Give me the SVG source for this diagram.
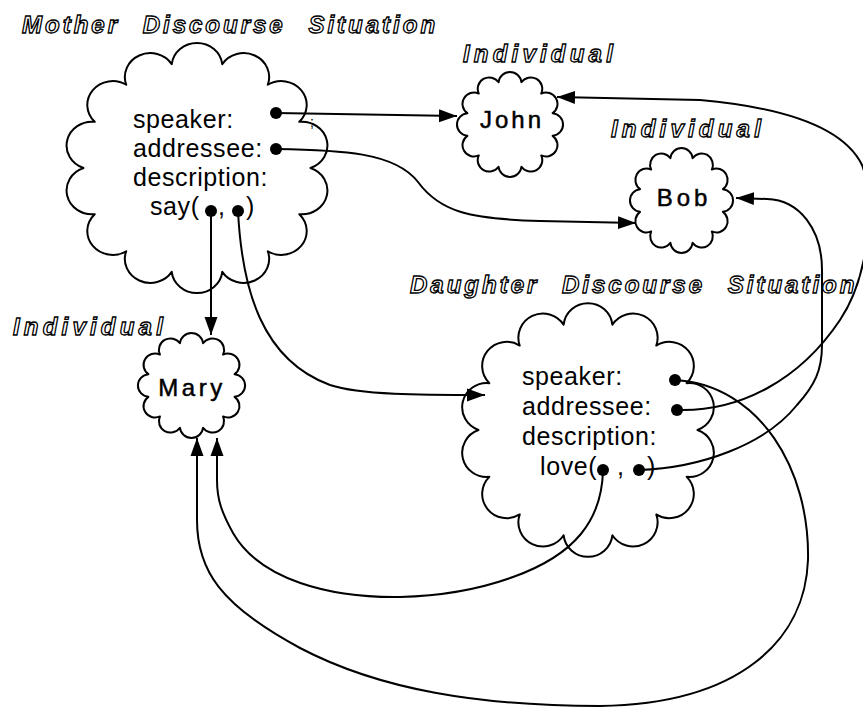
<svg xmlns="http://www.w3.org/2000/svg" xmlns:xlink="http://www.w3.org/1999/xlink" width="863" height="708" viewBox="0 0 863 708">
<style>
.bg{fill:#fff}
.cl{fill:#fff;stroke:#000;stroke-width:2;vector-effect:non-scaling-stroke;stroke-linejoin:round}
.ln{fill:none;stroke:#000;stroke-width:2}
.dot{fill:#000}
.ttl{font-family:"Liberation Sans",Arial,Helvetica,sans-serif;font-size:24px;font-weight:bold;font-style:italic;fill:#fff;stroke:#000;stroke-width:1.3px;letter-spacing:3px;word-spacing:13px}
.ind{letter-spacing:4.2px}
.body{font-family:"Liberation Sans",Arial,Helvetica,sans-serif;font-size:25px;fill:#000;letter-spacing:0.6px}
.nm{font-family:"Liberation Sans",Arial,Helvetica,sans-serif;font-size:24px;fill:#000;stroke:#000;stroke-width:0.5px;text-anchor:middle;letter-spacing:3px}
</style>
<defs>
<path id="cloud12" class="cl" d="M48.30,12.94 A13,13 0 0 1 35.36,35.36 A13,13 0 0 1 12.94,48.30 A13,13 0 0 1 -12.94,48.30 A13,13 0 0 1 -35.36,35.36 A13,13 0 0 1 -48.30,12.94 A13,13 0 0 1 -48.30,-12.94 A13,13 0 0 1 -35.36,-35.36 A13,13 0 0 1 -12.94,-48.30 A13,13 0 0 1 12.94,-48.30 A13,13 0 0 1 35.36,-35.36 A13,13 0 0 1 48.30,-12.94 A13,13 0 0 1 48.30,12.94 Z"/>
<path id="cloud14" class="cl" d="M50,0 A11.2,11.2 0 0 1 45.05,21.69 A11.2,11.2 0 0 1 31.17,39.09 A11.2,11.2 0 0 1 11.13,48.75 A11.2,11.2 0 0 1 -11.13,48.75 A11.2,11.2 0 0 1 -31.17,39.09 A11.2,11.2 0 0 1 -45.05,21.69 A11.2,11.2 0 0 1 -50,0 A11.2,11.2 0 0 1 -45.05,-21.69 A11.2,11.2 0 0 1 -31.17,-39.09 A11.2,11.2 0 0 1 -11.13,-48.75 A11.2,11.2 0 0 1 11.13,-48.75 A11.2,11.2 0 0 1 31.17,-39.09 A11.2,11.2 0 0 1 45.05,-21.69 A11.2,11.2 0 0 1 50,0 Z"/>
<marker id="ah" markerUnits="userSpaceOnUse" markerWidth="18" markerHeight="14" refX="18" refY="7" orient="auto" viewBox="0 0 18 14">
<path d="M0,0.5 L18,7 L0,13.5 Z" fill="#000"/>
</marker>
</defs>
<rect class="bg" x="0" y="0" width="863" height="708"/>

<g id="mother">
<text class="ttl" x="22" y="33">Mother Discourse Situation</text>
<use href="#cloud14" transform="translate(197,168) scale(2.27,2.13)"/>
<text class="body" x="133" y="128">speaker:</text>
<text class="body" x="133" y="157">addressee:</text>
<text class="body" x="133" y="186">description:</text>
<text class="body" x="150" y="215">say(</text>
<text class="body" x="218" y="215">,</text>
<text class="body" x="246" y="215">)</text>
<circle class="dot" cx="276" cy="113" r="6"/>
<circle class="dot" cx="276" cy="149" r="6"/>
<circle class="dot" cx="211" cy="211" r="6"/>
<circle class="dot" cx="238" cy="211" r="6"/>
</g>

<g id="john">
<text class="ttl ind" x="463" y="62">Individual</text>
<use href="#cloud12" transform="translate(510,124.5) scale(0.883,0.875)"/>
<text class="nm" x="512" y="128">John</text>
</g>

<g id="bob">
<text class="ttl ind" x="611" y="137">Individual</text>
<use href="#cloud12" transform="translate(681.5,200.5) scale(0.858,0.875)"/>
<text class="nm" x="684" y="206" style="letter-spacing:4px">Bob</text>
</g>

<g id="mary">
<text class="ttl ind" x="13" y="335">Individual</text>
<use href="#cloud12" transform="translate(191.5,385.5) scale(0.892,0.875)"/>
<text class="nm" x="192" y="396" style="letter-spacing:3.5px">Mary</text>
</g>

<g id="daughter">
<text class="ttl" x="410" y="293">Daughter Discourse Situation</text>
<use href="#cloud14" transform="translate(588,430) scale(2.19,2.16)"/>
<text class="body" x="522" y="385">speaker:</text>
<text class="body" x="522" y="415">addressee:</text>
<text class="body" x="522" y="445">description:</text>
<text class="body" x="540" y="475">love(</text>
<text class="body" x="617" y="475">,</text>
<text class="body" x="647" y="475">)</text>
<circle class="dot" cx="675" cy="380" r="6"/>
<circle class="dot" cx="677" cy="410" r="6"/>
<circle class="dot" cx="603" cy="470" r="6"/>
<circle class="dot" cx="639" cy="470" r="6"/>
</g>

<g id="connectors">
<path class="ln" marker-end="url(#ah)" d="M276,113 L457,116"/>
<text x="310" y="127" font-family="Liberation Sans, Arial, sans-serif" font-size="14" fill="#000">;</text>
<path class="ln" marker-end="url(#ah)" d="M276,149 C340,150 395,152 418,182 C440,212 470,219 540,221 L636,223"/>
<path class="ln" marker-end="url(#ah)" d="M211,211 L211,335"/>
<path class="ln" marker-end="url(#ah)" d="M238,211 C242,290 262,360 330,385 C360,395 420,395 485,395"/>
<path class="ln" marker-end="url(#ah)" d="M675,380 C760,385 810,470 808,560 C805,640 740,704 600,706 C480,706 380,690 300,648 C220,605 197,570 197,520 L197,438"/>
<path class="ln" marker-end="url(#ah)" d="M677,410 C740,412 800,380 840,320 C870,275 875,200 862,165 C845,130 790,108 700,100 L557,97"/>
<path class="ln" marker-end="url(#ah)" d="M639,470 C700,468 765,445 797,405 C815,385 822,370 822,345 L822,270 C822,230 800,200 767,199 L736,198"/>
<path class="ln" marker-end="url(#ah)" d="M603,470 C602,520 575,555 513,577 C480,589 440,596 400,597 C330,598 260,580 233,533 C222,513 217,500 217,480 L217,438"/>
</g>
</svg>
